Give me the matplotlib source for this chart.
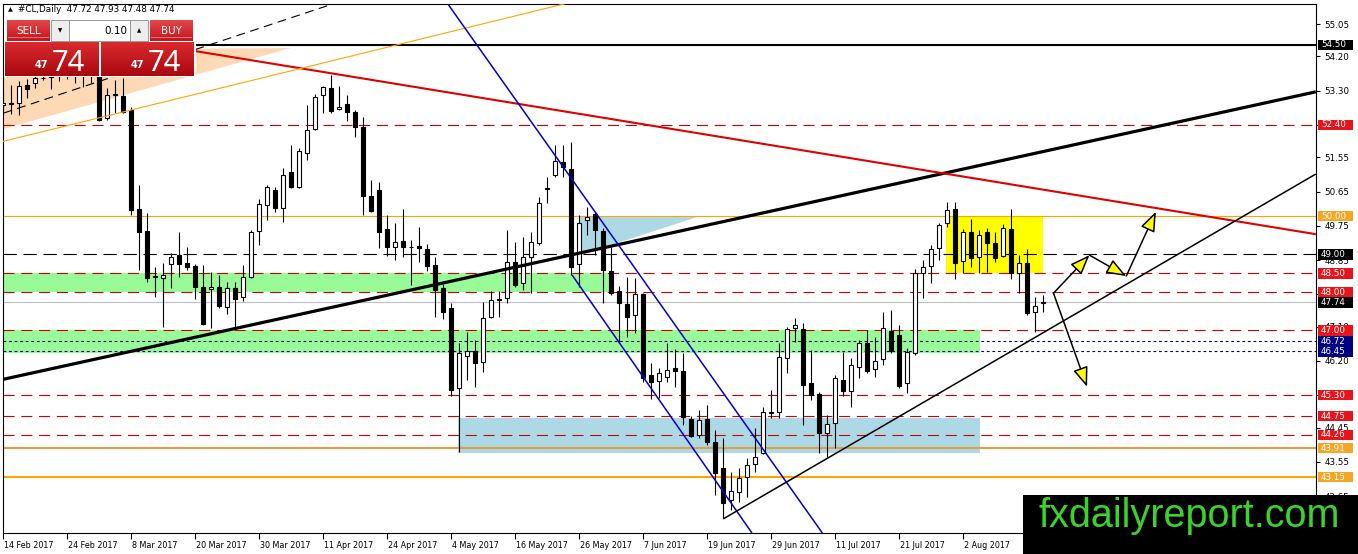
import numpy as np
import matplotlib
matplotlib.use("Agg")
import matplotlib.pyplot as plt
import matplotlib.transforms as mtransforms
from matplotlib.patches import Rectangle, Polygon
from matplotlib.colors import LinearSegmentedColormap

W, H = 1358, 554

# ====== DATA ======
opens = [52.92, 52.98, 52.98, 53.45, 53.50, 53.63, 53.65, 53.80, 53.92, 53.75,
         53.95, 53.70, 53.90, 52.58, 53.18, 53.16, 52.79, 50.19, 49.61, 48.43,
         48.37, 48.75, 48.98, 48.77, 48.69, 48.14, 48.10, 48.14, 47.62, 48.12,
         47.88, 48.40, 49.62, 50.29, 50.69, 50.22, 51.16, 50.77, 51.66, 52.29,
         53.18, 53.37, 52.82, 52.95, 52.74, 52.35, 50.53, 50.69, 49.67, 49.19,
         49.35, 49.20, 49.22, 49.14, 48.72, 48.12, 47.59, 45.49, 46.33, 46.46,
         46.17, 47.35, 47.82, 47.85, 48.80, 48.25, 48.93, 49.30, 50.74, 51.08,
         51.43, 51.24, 48.75, 49.90, 50.06, 49.61, 48.56, 48.04, 47.69, 47.41,
         47.96, 45.83, 45.67, 45.78, 46.02, 45.94, 44.67, 44.25, 44.67, 44.07,
         43.39, 42.55, 42.76, 43.15, 43.49, 43.78, 44.86, 44.86, 46.28, 47.06,
         47.04, 45.62, 45.33, 44.31, 44.57, 45.70, 45.41, 46.04, 46.67, 45.99,
         46.25, 46.99, 46.88, 45.62, 46.41, 48.51, 48.69, 49.17, 49.82, 50.19,
         48.82, 49.59, 48.93, 49.59, 49.30, 48.96, 49.67, 48.51, 48.77, 47.48,
         47.72]
highs = [53.27, 53.45, 53.56, 53.60, 53.75, 53.80, 54.00, 54.10, 54.05, 54.15,
         54.10, 54.00, 54.05, 53.37, 53.58, 53.63, 52.87, 50.82, 50.09, 48.67,
         48.77, 49.04, 49.59, 49.19, 48.75, 48.72, 48.54, 48.46, 48.27, 48.27,
         48.72, 49.64, 50.45, 50.82, 50.78, 51.27, 51.87, 51.79, 52.92, 53.20,
         53.42, 53.71, 53.42, 53.18, 52.79, 52.61, 50.95, 50.90, 50.03, 49.82,
         50.19, 49.38, 49.72, 49.27, 48.93, 48.22, 47.72, 46.67, 46.96, 46.75,
         47.75, 48.04, 48.04, 49.64, 49.33, 49.46, 49.59, 50.50, 51.03, 51.87,
         51.87, 51.95, 50.03, 50.24, 50.11, 49.69, 49.19, 48.17, 48.40, 48.38,
         47.99, 46.15, 46.02, 46.67, 46.51, 46.41, 44.75, 44.91, 45.04, 44.39,
         44.18, 43.28, 43.39, 43.65, 44.44, 44.99, 45.44, 46.67, 47.09, 47.33,
         47.20, 46.49, 45.39, 44.78, 45.83, 46.44, 46.28, 46.75, 47.01, 46.83,
         47.49, 47.54, 47.14, 46.54, 48.61, 48.85, 49.25, 49.82, 50.37, 50.37,
         49.67, 49.93, 49.64, 49.69, 49.59, 49.80, 50.19, 48.98, 49.14, 47.88,
         47.93]
lows = [52.70, 52.70, 52.66, 53.10, 53.37, 53.58, 53.35, 53.55, 53.60, 53.50,
        53.40, 53.50, 52.50, 52.53, 52.71, 52.71, 50.03, 48.59, 48.27, 47.88,
        47.09, 48.12, 48.40, 48.59, 47.83, 47.15, 47.07, 47.59, 47.43, 47.07,
        47.77, 48.37, 49.25, 49.90, 50.10, 49.85, 50.74, 50.74, 51.48, 52.27,
        52.71, 52.71, 52.80, 52.50, 52.08, 50.03, 50.10, 49.17, 48.96, 48.85,
        48.93, 48.20, 48.80, 48.56, 47.35, 47.30, 45.28, 43.80, 45.70, 45.52,
        45.90, 47.33, 47.35, 47.72, 48.14, 48.06, 47.99, 49.25, 50.35, 51.03,
        51.03, 48.46, 48.14, 49.51, 48.98, 47.72, 47.93, 46.70, 46.83, 46.93,
        45.65, 45.20, 45.23, 45.65, 45.52, 44.52, 44.20, 44.18, 43.99, 42.68,
        42.07, 42.29, 42.50, 42.63, 43.28, 43.76, 44.70, 44.70, 45.88, 46.70,
        44.52, 45.18, 43.78, 43.68, 43.91, 45.28, 44.99, 45.75, 45.88, 45.78,
        46.10, 46.41, 45.50, 45.36, 46.36, 47.85, 48.25, 48.85, 49.72, 48.35,
        48.51, 48.67, 48.51, 48.54, 48.80, 48.93, 48.35, 47.99, 47.41, 46.96,
        47.48]
closes = [52.98, 52.96, 53.42, 53.34, 53.63, 53.64, 53.80, 53.92, 53.75, 53.95,
          53.70, 53.90, 52.53, 53.18, 53.20, 52.74, 50.17, 49.59, 48.38, 48.41,
          48.45, 48.93, 48.75, 48.67, 48.14, 47.17, 48.14, 47.64, 48.12, 47.83,
          48.40, 49.59, 50.32, 50.77, 50.22, 51.08, 50.77, 51.72, 52.27, 53.13,
          53.39, 52.77, 52.87, 52.74, 52.35, 50.53, 50.14, 49.59, 49.19, 49.32,
          49.19, 49.19, 49.17, 48.69, 48.06, 47.49, 45.44, 46.40, 46.46, 46.15,
          47.33, 47.80, 47.79, 48.80, 48.20, 48.93, 49.33, 50.35, 50.72, 51.45,
          51.29, 48.67, 49.82, 49.98, 49.64, 48.59, 47.99, 47.72, 47.35, 47.96,
          45.75, 45.65, 45.88, 45.96, 45.94, 44.72, 44.23, 44.65, 44.07, 43.26,
          42.47, 42.79, 43.13, 43.47, 43.68, 44.86, 44.83, 46.30, 47.04, 47.14,
          45.57, 45.31, 44.31, 44.54, 45.75, 45.41, 46.10, 46.67, 45.94, 46.20,
          47.06, 46.46, 45.54, 46.44, 48.51, 48.67, 49.14, 49.77, 50.16, 48.77,
          49.59, 48.90, 49.51, 49.30, 48.90, 49.69, 48.51, 48.77, 47.46, 47.64,
          47.74]

date_labels = ["14 Feb 2017", "24 Feb 2017", "8 Mar 2017", "20 Mar 2017",
               "30 Mar 2017", "11 Apr 2017", "24 Apr 2017", "4 May 2017",
               "16 May 2017", "26 May 2017", "7 Jun 2017", "19 Jun 2017",
               "29 Jun 2017", "11 Jul 2017", "21 Jul 2017", "2 Aug 2017"]
date_step = 8  # bars between date labels

price_ticks = [55.05, 54.20, 53.30, 52.40, 51.55, 50.65, 49.75, 48.85, 47.95,
               47.10, 46.20, 45.30, 44.45, 43.55, 42.65]

# horizontal levels
black_levels = [54.50]
black_dash_levels = [49.00]
red_levels = [52.40, 48.50, 48.00, 47.00, 45.30, 44.75, 44.26]
navy_levels = [46.72, 46.45]
orange_thin_levels = [50.00]
orange_levels = [43.91, 43.15]
bid_price = 47.74

# boxes: (bar_from, bar_to, price_low, price_high)
green_boxes = [(-1, 75.9, 48.00, 48.50), (-1, 122.1, 46.40, 47.00)]
blue_box = (56.9, 122.1, 43.78, 44.70)
yellow_box = (117.9, 130.0, 48.50, 50.00)
peach_triangle = [(-0.4, 54.37), (35.9, 54.42), (-0.4, 52.27)]
blue_triangle = [(72.1, 49.98), (86.75, 49.98), (72.1, 48.98)]

# trend lines: (bar, price) pairs
thick_black_line = [(-0.4, 45.70), (164.1, 53.27)]
red_line = [(24.0, 54.34), (164.1, 49.53)]
orange_line = [(-0.4, 51.95), (74.6, 55.81)]
dashed_line = [(0.0, 52.71), (41.5, 55.60)]
blue_upper = [(55.5, 55.60), (102.4, 41.68)]
blue_lower = [(71.1, 48.46), (93.6, 41.68)]
support_line = [(90.0, 42.05), (164.1, 51.11)]

# scenario arrows
arrow_up_path = [(131.3, 47.98), (135.8, 48.98), (140.4, 48.43), (144.1, 50.12)]
arrow_down_path = [(131.3, 47.98), (135.5, 45.52)]

# right-axis price labels (price, background)
price_labels = [(54.50, "black"), (52.40, "#E8141C"), (50.00, "#F5A623"),
                (49.00, "black"), (48.50, "#E8141C"), (48.00, "#E8141C"),
                (47.74, "black"), (47.00, "#E8141C"), (46.72, "#000080"),
                (46.45, "#000080"), (45.30, "#E8141C"), (44.75, "#E8141C"),
                (44.26, "#E8141C"), (43.91, "#F5A623"), (43.15, "#F5A623")]

header = "#CL,Daily  47.72 47.93 47.48 47.74"

# ====== FIGURE ======
plt.rcParams['font.family'] = ['DejaVu Sans']
fig = plt.figure(figsize=(W / 100, H / 100), dpi=100)
ax = fig.add_axes([3 / W, 1 - 533 / H, (1316 - 3) / W, (533 - 4) / H])
ax.set_xlim(-0.05, 164.125)
ax.set_ylim(41.68, 55.577)
ax.set_facecolor("white")
for s in ax.spines.values():
    s.set_color("black")
    s.set_linewidth(0.8)

# boxes (background)
for x0, x1, lo, hi in green_boxes:
    ax.add_patch(Rectangle((x0, lo), x1 - x0, hi - lo, fc="#98FB98", ec="none", zorder=1))
bx0, bx1, blo, bhi = blue_box
ax.add_patch(Rectangle((bx0, blo), bx1 - bx0, bhi - blo, fc="#ADD8E6", ec="none", zorder=1))
yx0, yx1, ylo, yhi = yellow_box
ax.add_patch(Rectangle((yx0, ylo), yx1 - yx0, yhi - ylo, fc="#FFFF00", ec="none", zorder=1))
ax.add_patch(Polygon(peach_triangle, closed=True, fc="#FDD9B5", ec="none", zorder=1))
ax.add_patch(Polygon(blue_triangle, closed=True, fc="#ADD8E6", ec="none", zorder=1))

# horizontal levels
for p in black_levels:
    ax.axhline(p, color="black", lw=1.5, zorder=2)
for p in black_dash_levels:
    ax.axhline(p, color="black", lw=0.8, ls=(0, (12, 6)), zorder=2)
for p in red_levels:
    ax.axhline(p, color="#D00000", lw=0.8, ls=(0, (10, 6)), zorder=2)
for p in navy_levels:
    ax.axhline(p, color="#000080", lw=0.8, ls=(0, (2.5, 2.5)), zorder=2)
for p in orange_thin_levels:
    ax.axhline(p, color="#FFA500", lw=0.8, zorder=2)
ax.axhline(orange_levels[0], color="#E0A040", lw=1.5, zorder=2)
ax.axhline(orange_levels[1], color="#FFA500", lw=1.5, zorder=2)
ax.axhline(bid_price, color="#C0C0C0", lw=0.8, zorder=2)

# candles
x = np.arange(len(opens))
o = np.array(opens)
c = np.array(closes)
ax.vlines(x, lows, highs, color="black", lw=0.8, zorder=3)
bottom = np.minimum(o, c)
height = np.maximum(np.abs(c - o), 0.012)
face = ["white" if cc >= oo else "black" for oo, cc in zip(o, c)]
ax.bar(x, height, bottom=bottom, width=0.5, color=face, edgecolor="black",
       linewidth=0.8, zorder=3)

# trend lines
def draw(pts, **kw):
    xs, ys = zip(*pts)
    ax.plot(xs, ys, solid_capstyle="butt", **kw)

draw(thick_black_line, color="black", lw=2.3, zorder=4)
draw(red_line, color="#E00000", lw=1.5, zorder=4)
draw(orange_line, color="#FFA500", lw=0.8, zorder=4)
draw(dashed_line, color="black", lw=0.8, ls=(0, (8, 5)), zorder=4)
draw(blue_upper, color="#0000CD", lw=1.1, zorder=4)
draw(blue_lower, color="#0000CD", lw=1.1, zorder=4)
draw(support_line, color="black", lw=1.1, zorder=4)

# arrows
def arrows(path):
    for a, b in zip(path[:-1], path[1:]):
        ax.annotate("", xy=b, xytext=a, zorder=5,
                    arrowprops=dict(arrowstyle="-|>,head_length=1.1,head_width=0.42",
                                    fc="#FFFF00", ec="black", lw=1.1,
                                    shrinkA=0, shrinkB=0, mutation_scale=11))

arrows(arrow_up_path)
arrows(arrow_down_path)

# axes ticks
ax.set_xticks(np.arange(len(date_labels)) * date_step)
ax.set_xticklabels(date_labels)
plt.setp(ax.get_xticklabels(), ha="left")
ax.tick_params(axis="x", direction="out", length=4, width=0.8, pad=2, labelsize=5.8)
ax.yaxis.tick_right()
ax.set_yticks(price_ticks)
# tick labels that sit exactly under a coloured price label are hidden anyway
covered = {p for p, _ in price_labels}
ax.set_yticklabels(["" if t in covered else f"{t:.2f}" for t in price_ticks])
ax.tick_params(axis="y", direction="out", length=3, width=0.8, pad=3, labelsize=6.3)
for lbl in ax.get_xticklabels():
    lbl.set_transform(lbl.get_transform() + mtransforms.ScaledTranslation(1 / 100, 0, fig.dpi_scale_trans))

# coloured price labels on the right
trans = mtransforms.blended_transform_factory(ax.transAxes, ax.transData)
bh = 5.2 * (55.577 - 41.68) / 529
for p, bg in price_labels:
    ax.add_patch(Rectangle(((1318 - 3) / 1313, p - bh), 35 / 1313, 2 * bh, fc=bg, ec="none",
                           transform=trans, clip_on=False, zorder=8))
    ax.text((1321 - 3) / 1313, p, f"{p:.2f}", transform=trans, color="white",
            fontsize=6.3, va="center", ha="left", clip_on=False, zorder=9)

# ====== TRADING PANEL ======
def fig_rect(x0, y0, x1, y1, z=2, **kw):
    r = Rectangle((x0 / W, 1 - y1 / H), (x1 - x0) / W, (y1 - y0) / H,
                  transform=fig.transFigure, zorder=z, **kw)
    fig.add_artist(r)

def grad_box(x0, y0, x1, y1, top, bot):
    a = fig.add_axes([x0 / W, 1 - y1 / H, (x1 - x0) / W, (y1 - y0) / H])
    cmap = LinearSegmentedColormap.from_list("g", [top, bot])
    a.imshow(np.linspace(0, 1, 64).reshape(-1, 1), aspect="auto", cmap=cmap)
    a.set_axis_off()
    a.set_zorder(3)

def ftext(x, y, s, z=5, **kw):
    fig.text(x / W, 1 - y / H, s, zorder=z, **kw)

fig_rect(4, 17, 196, 77, fc="white", ec="none")
grad_box(7, 20, 50, 41, "#E3474A", "#C4141C")
grad_box(150, 20, 193, 41, "#E3474A", "#C4141C")
grad_box(5, 42, 99, 76, "#D92B2F", "#A8080E")
grad_box(101, 42, 194, 76, "#D92B2F", "#A8080E")
fig_rect(51, 20, 69, 41, z=4, fc="#EDEDED", ec="#9A9A9A", lw=0.7)
fig_rect(69, 20, 130, 41, z=4, fc="white", ec="#9A9A9A", lw=0.7)
fig_rect(130, 20, 148, 41, z=4, fc="#EDEDED", ec="#9A9A9A", lw=0.7)
fig_rect(8, 37, 49, 38, z=4, fc="#E87074", ec="none")
fig_rect(151, 37, 192, 38, z=4, fc="#E87074", ec="none")

ftext(28.5, 30.5, "SELL", color="white", fontsize=7.5, ha="center", va="center")
ftext(171.5, 30.5, "BUY", color="white", fontsize=7.5, ha="center", va="center")
ftext(60, 30.5, "▼", color="black", fontsize=4, ha="center", va="center")
ftext(139, 30.5, "▲", color="black", fontsize=4, ha="center", va="center")
ftext(127, 30.5, "0.10", color="black", fontsize=7.5, ha="right", va="center")
for bx in (0, 96):
    ftext(35 + bx, 68, "47", color="white", fontsize=7, fontweight="bold",
          ha="left", va="baseline")
    ftext(52 + bx, 71, "74", color="white", fontsize=21, ha="left", va="baseline",
          family="Noto Sans")

ftext(8, 10, "▲", color="black", fontsize=4.5, ha="left", va="center")
ftext(18, 10, header, color="black", fontsize=6.3, ha="left", va="center")

# ====== WATERMARK ======
fig_rect(1023, 495, 1358, 554, z=6, fc="black", ec="none")
ftext(1189, 527, "fxdailyreport.com", z=7, color="#3AD22B", fontsize=28.5,
      ha="center", va="baseline", family="Liberation Sans")

fig.savefig("out.png", dpi=100)
